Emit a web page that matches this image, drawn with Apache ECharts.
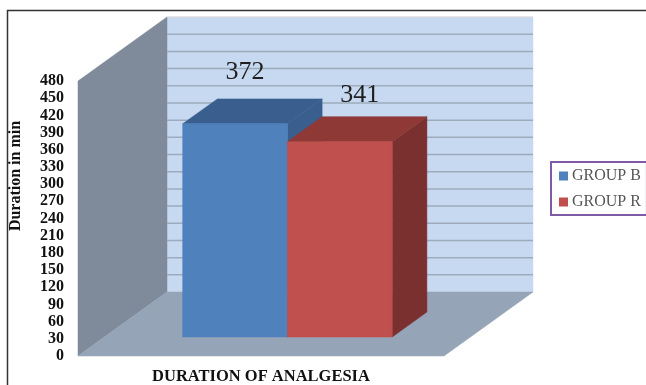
<!DOCTYPE html>
<html>
<head>
<meta charset="utf-8">
<style>html,body{margin:0;padding:0;background:#fff;overflow:hidden}#chart{width:646px;height:385px}</style>
<script src="https://cdn.jsdelivr.net/npm/echarts@6/dist/echarts.min.js"></script>
</head>
<body>
<div id="chart"></div>
<script>
// Mean duration of analgesia per group, in minutes
const categories = ['DURATION OF ANALGESIA'];
const groupB = [372];
const groupR = [341];
const gridTicks = [30, 60, 90, 120, 150, 180, 210, 240, 270, 300, 330, 360, 390, 420, 450];
const axisMax = 480;
const axisStep = 30;

const SERIF = '"Liberation Serif", serif';

// Oblique projection of the box: how far the back plane sits from the front plane
const DEPTH_X = 89;
const DEPTH_Y = -64;
// Where the bars sit on the floor, as fractions of the depth
const BAR_FRONT = 0.297;
const BAR_DEEP = 0.39;
const BAR_SHARE = 0.5725;

const chart = echarts.init(document.getElementById('chart'), null, { renderer: 'canvas' });

function poly(points, fill, extra) {
  return Object.assign({
    type: 'polygon',
    shape: { points },
    style: { fill, stroke: fill, lineWidth: 0.5 }
  }, extra || {});
}

// Back wall, side wall and floor of the plot box
function renderBox(params, api) {
  const bottom = api.coord([0, 0])[1];
  const top = api.coord([0, axisMax])[1];
  const span = api.size([1, 0])[0];
  const left = api.coord([0, 0])[0] - span / 2;
  const right = left + span;
  const bx = left + DEPTH_X;
  const bRight = right + DEPTH_X;
  return {
    type: 'group',
    children: [
      poly([[bx, top + DEPTH_Y], [bRight, top + DEPTH_Y], [bRight, bottom + DEPTH_Y], [bx, bottom + DEPTH_Y]], '#c6d9f1'),
      { type: 'line', shape: { x1: bx, y1: top + DEPTH_Y, x2: bRight, y2: top + DEPTH_Y }, style: { stroke: '#dcdcd4', lineWidth: 1 } },
      poly([[left, top], [bx, top + DEPTH_Y], [bx, bottom + DEPTH_Y], [left, bottom]], '#7f8b9b'),
      poly([[left, bottom], [bx, bottom + DEPTH_Y], [bRight, bottom + DEPTH_Y], [right, bottom]], '#95a4b6')
    ]
  };
}

// One horizontal rule on the back wall
function renderRule(params, api) {
  const y = api.coord([0, api.value(0)])[1] + DEPTH_Y;
  const span = api.size([1, 0])[0];
  const x = api.coord([0, 0])[0] - span / 2 + DEPTH_X;
  return {
    type: 'line',
    shape: { x1: x, y1: y, x2: x + span, y2: y },
    style: { stroke: '#9dabbd', lineWidth: 1.5 }
  };
}

// A box-shaped bar; slot 0 stands left of the category centre, slot 1 right of it
function barRenderer(slot, faces, labelShift) {
  return function (params, api) {
    const value = api.value(1);
    const zero = api.coord([api.value(0), 0]);
    const head = api.coord([api.value(0), value]);
    const span = api.size([1, 0])[0];
    const w = span * BAR_SHARE / 2;
    const ox = DEPTH_X * BAR_FRONT;
    const oy = DEPTH_Y * BAR_FRONT;
    const x0 = zero[0] + ox + (slot - 1) * w;
    const x1 = x0 + w;
    const yb = zero[1] + oy;
    const yt = head[1] + oy;
    const dx = DEPTH_X * BAR_DEEP;
    const dy = DEPTH_Y * BAR_DEEP;
    return {
      type: 'group',
      children: [
        poly([[x1, yt], [x1 + dx, yt + dy], [x1 + dx, yb + dy], [x1, yb]], faces.side),
        poly([[x0, yt], [x0 + dx, yt + dy], [x1 + dx, yt + dy], [x1, yt]], faces.top),
        poly([[x0, yt], [x1, yt], [x1, yb], [x0, yb]], faces.front),
        {
          type: 'text',
          style: {
            text: String(value),
            x: (x0 + x1) / 2 + labelShift[0],
            y: yt + labelShift[1],
            fill: '#1f1f1f',
            font: '26px ' + SERIF,
            textAlign: 'center',
            textVerticalAlign: 'middle'
          }
        }
      ]
    };
  };
}

chart.setOption({
  animation: false,
  backgroundColor: '#ffffff',
  grid: { left: 78, top: 81, width: 366, height: 275, containLabel: false, outerBoundsMode: 'none' },
  legend: {
    orient: 'vertical',
    left: 551,
    top: 162,
    padding: [6, 6, 5, 8],
    itemGap: 10,
    itemWidth: 9,
    itemHeight: 9,
    icon: 'rect',
    borderColor: '#7d5ba6',
    borderWidth: 2,
    data: ['GROUP B', 'GROUP R'],
    textStyle: { fontFamily: SERIF, fontSize: 16, color: '#555', padding: [0, 0, 0, -1] }
  },
  xAxis: {
    type: 'category',
    data: categories,
    name: categories[0],
    nameLocation: 'middle',
    nameGap: 12,
    nameTextStyle: { fontFamily: SERIF, fontWeight: 'bold', fontSize: 16.5, color: '#111' },
    axisLabel: { show: false },
    axisTick: { show: false },
    axisLine: { show: false }
  },
  yAxis: {
    type: 'value',
    min: 0,
    max: axisMax,
    interval: axisStep,
    axisLabel: { fontFamily: SERIF, fontWeight: 'bold', fontSize: 16, color: '#111', margin: 14, padding: [2, 0, 0, 0] },
    axisTick: { show: false },
    axisLine: { show: false },
    splitLine: { show: false }
  },
  graphic: [
    {
      type: 'polyline',
      silent: true,
      shape: { points: [[7.5, 385], [7.5, 10.5], [646, 10.5]] },
      style: { stroke: '#333', lineWidth: 1.5, fill: null }
    },
    {
      type: 'text',
      silent: true,
      x: 16,
      y: 176,
      rotation: Math.PI / 2,
      style: {
        text: 'Duration in min',
        fill: '#111',
        font: 'bold 16px ' + SERIF,
        textAlign: 'center',
        textVerticalAlign: 'middle'
      }
    }
  ],
  series: [
    {
      type: 'custom',
      name: 'box',
      z: 1,
      silent: true,
      clip: false,
      renderItem: renderBox,
      data: [[0, axisMax]],
      encode: { x: 0, y: 1 }
    },
    {
      type: 'custom',
      name: 'rules',
      z: 2,
      silent: true,
      clip: false,
      renderItem: renderRule,
      data: gridTicks.map(t => [t]),
      encode: { y: 0 }
    },
    {
      type: 'custom',
      name: 'GROUP B',
      z: 3,
      clip: false,
      itemStyle: { color: '#4f81bd' },
      renderItem: barRenderer(0, { front: '#4f81bd', top: '#3a5f8f', side: '#3a5f8f' }, [10, -52]),
      data: groupB.map((v, i) => [i, v]),
      encode: { x: 0, y: 1 }
    },
    {
      type: 'custom',
      name: 'GROUP R',
      z: 4,
      clip: false,
      itemStyle: { color: '#c0504d' },
      renderItem: barRenderer(1, { front: '#c0504d', top: '#8e3936', side: '#7a302e' }, [20, -46]),
      data: groupR.map((v, i) => [i, v]),
      encode: { x: 0, y: 1 }
    }
  ]
});
</script>
</body>
</html>
